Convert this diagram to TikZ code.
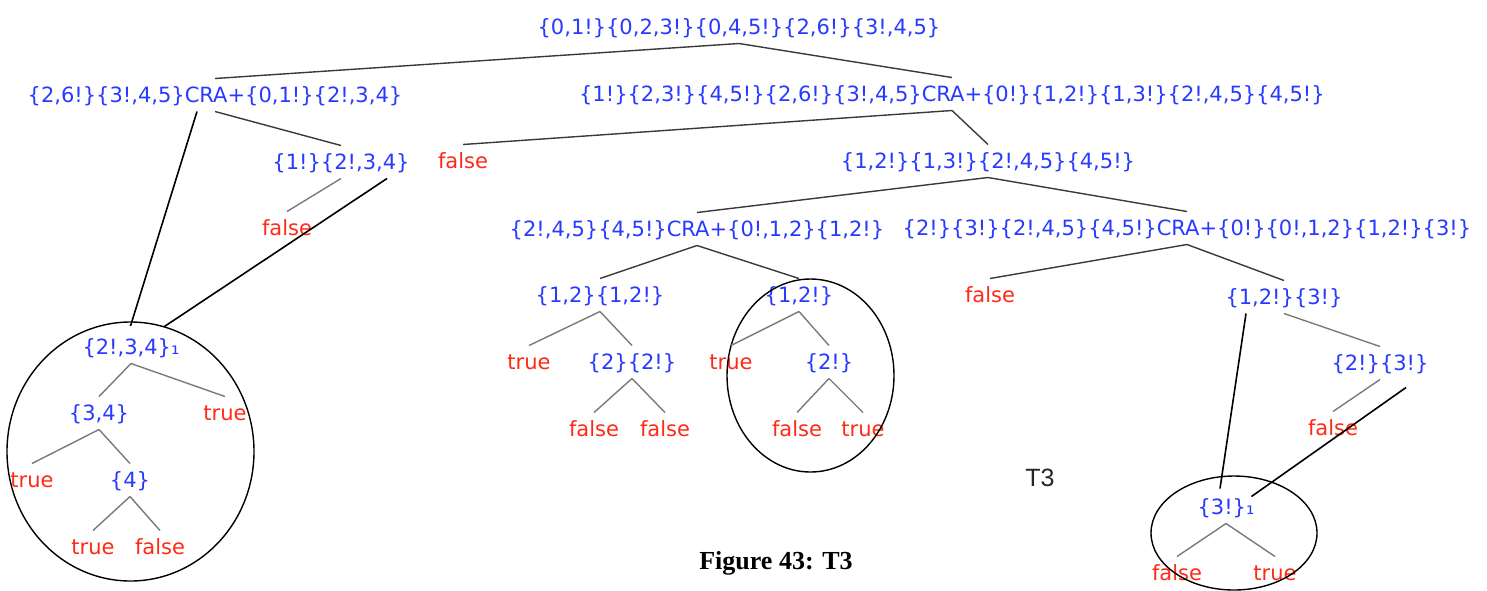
\documentclass[tikz,border=0pt]{standalone}
\usepackage{fontspec}
\setmainfont{DejaVu Sans}
\newfontfamily\capfont{Liberation Serif}
\newfontfamily\tfont{Liberation Sans}
\usetikzlibrary{shapes.geometric}
\definecolor{tblue}{RGB}{40,58,255}
\definecolor{tred}{RGB}{255,42,22}
\definecolor{edgedark}{HTML}{3A3A3A}
\definecolor{edgelight}{HTML}{7A7A7A}
\begin{document}
\begin{tikzpicture}[x=1pt,y=-1pt,
  lab/.style={inner sep=0pt, outer sep=0pt, text height=24pt, text depth=9pt, font=\fontsize{21}{24}\selectfont},
  setn/.style={lab, text=tblue},
  resn/.style={lab, text=tred},
  tedge/.style={draw=edgedark, line width=1.4pt},
  sedge/.style={draw=edgelight, line width=1.4pt},
  xlink/.style={draw=black, line width=1.6pt},
  ring/.style={draw=black, line width=1.4pt, ellipse, inner sep=0pt, outer sep=0pt}
]
\useasboundingbox (0,0) rectangle (1487,590);
\fill[white] (0,0) rectangle (1487,590);

% upper tree
\node[setn] (root) at (739,27) {\{0,1!\}\{0,2,3!\}\{0,4,5!\}\{2,6!\}\{3!,4,5\}};
\node[setn] (l1l) at (215,95) {\{2,6!\}\{3!,4,5\}CRA+\{0,1!\}\{2!,3,4\}};
\node[setn] (l1r) at (952,94) {\{1!\}\{2,3!\}\{4,5!\}\{2,6!\}\{3!,4,5\}CRA+\{0!\}\{1,2!\}\{1,3!\}\{2!,4,5\}\{4,5!\}};
\node[setn] (n1) at (341,162) {\{1!\}\{2!,3,4\}};
\node[resn] (f1) at (287,228) {false};
\node[resn] (f2) at (463,161) {false};
\node[setn] (n2) at (988,161) {\{1,2!\}\{1,3!\}\{2!,4,5\}\{4,5!\}};
\node[setn] (n3) at (697,229) {\{2!,4,5\}\{4,5!\}CRA+\{0!,1,2\}\{1,2!\}};
\node[setn] (n4) at (1187,228) {\{2!\}\{3!\}\{2!,4,5\}\{4,5!\}CRA+\{0!\}\{0!,1,2\}\{1,2!\}\{3!\}};
\node[setn] (n5) at (600,295) {\{1,2\}\{1,2!\}};
\node[setn] (n6) at (799,295) {\{1,2!\}};
\node[resn] (t1) at (529,362) {true};
\node[setn] (n7) at (632,362) {\{2\}\{2!\}};
\node[resn] (f3) at (594,429) {false};
\node[resn] (f4) at (665,429) {false};
\node[resn] (t2) at (731,362) {true};
\node[setn] (n8) at (829,362) {\{2!\}};
\node[resn] (f5) at (797,429) {false};
\node[resn] (t3) at (863,429) {true};
\node[resn] (f6) at (990,295) {false};
\node[setn] (n9) at (1284,297) {\{1,2!\}\{3!\}};
\node[setn] (n10) at (1380,363) {\{2!\}\{3!\}};
\node[resn] (f7) at (1333,428) {false};
\node[setn] (m1) at (1226,507) {\{3!\}₁};
\node[resn] (f8) at (1177,573) {false};
\node[resn] (t4) at (1275,573) {true};

% left subtree
\node[setn] (k1) at (131,347) {\{2!,3,4\}₁};
\node[setn] (k2) at (99,413) {\{3,4\}};
\node[resn] (t5) at (225,413) {true};
\node[resn] (t6) at (32,480) {true};
\node[setn] (k3) at (130,480) {\{4\}};
\node[resn] (t7) at (93,547) {true};
\node[resn] (f9) at (160,547) {false};

% rings
\node[ring, minimum width=247pt, minimum height=259pt] (ec1) at (130.5,451.5) {};
\node[ring, minimum width=167pt, minimum height=193pt] (ec2) at (810.5,375.5) {};
\node[ring, minimum width=166pt, minimum height=114pt] (ec3) at (1234,533) {};

% labels
\node[inner sep=0pt, font=\tfont\fontsize{25}{28}\selectfont, text=black!85] (lbl) at (1040,478) {T3};
\node[inner sep=0pt, font=\capfont\bfseries\fontsize{26}{29}\selectfont] (cap) at (776,563) {Figure 43: T3};

% edges
\draw[tedge] (root.south) -- (l1l.north);
\draw[tedge] (root.south) -- (l1r.north);
\draw[tedge] (l1l.south) -- (n1.north);
\draw[sedge] (n1.south) -- (f1.north);
\draw[tedge] (l1r.south) -- (f2.north);
\draw[tedge] (l1r.south) -- (n2.north);
\draw[tedge] (n2.south) -- (n3.north);
\draw[tedge] (n2.south) -- (n4.north);
\draw[tedge] (n3.south) -- (n5.north);
\draw[tedge] (n3.south) -- (n6.north);
\draw[sedge] (n5.south) -- (t1.north);
\draw[sedge] (n5.south) -- (n7.north);
\draw[sedge] (n7.south) -- (f3.north);
\draw[sedge] (n7.south) -- (f4.north);
\draw[sedge] (n6.south) -- (t2.north);
\draw[sedge] (n6.south) -- (n8.north);
\draw[sedge] (n8.south) -- (f5.north);
\draw[sedge] (n8.south) -- (t3.north);
\draw[tedge] (n4.south) -- (f6.north);
\draw[tedge] (n4.south) -- (n9.north);
\draw[sedge] (n9.south) -- (n10.north);
\draw[sedge] (n10.south) -- (f7.north);
\draw[sedge] (m1.south) -- (f8.north);
\draw[sedge] (m1.south) -- (t4.north);
\draw[sedge] (k1.south) -- (k2.north);
\draw[sedge] (k1.south) -- (t5.north);
\draw[sedge] (k2.south) -- (t6.north);
\draw[sedge] (k2.south) -- (k3.north);
\draw[sedge] (k3.south) -- (t7.north);
\draw[sedge] (k3.south) -- (f9.north);

% cross links into the rings
\draw[xlink] ([xshift=-18pt]l1l.south) -- ([yshift=-4pt]ec1.north);
\draw[xlink] ([xshift=46pt]n1.south) -- (ec1.75.5);
\draw[xlink] ([xshift=-38pt]n9.south) -- ([xshift=-6pt,yshift=2pt]m1.north);
\draw[xlink] ([xshift=26pt,yshift=-8pt]n10.south) -- ([xshift=-3pt,yshift=-6pt]m1.north east);
\end{tikzpicture}
\end{document}
